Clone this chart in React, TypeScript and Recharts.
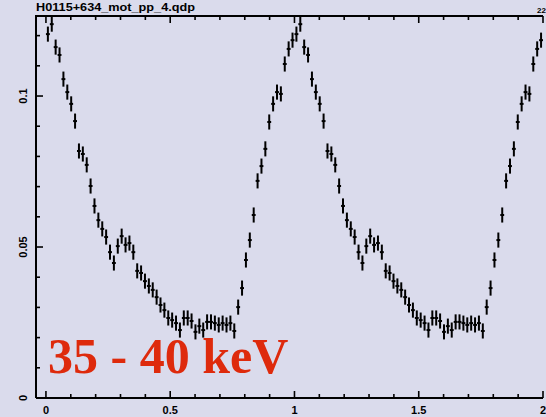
import React from 'react';
import { ScatterChart, Scatter, XAxis, YAxis, ErrorBar } from 'recharts';

const TITLE = 'H0115+634_mot_pp_4.qdp';
const CORNER_TAG = '22';
const BAND_LABEL = '35 - 40 keV';

// folded light curve, 64 phase bins per cycle
const rate = [
  0.1205, 0.1238, 0.1162, 0.1136, 0.1056, 0.1013, 0.0974, 0.0917,
  0.0818, 0.0808, 0.0772, 0.0702, 0.0636, 0.0589, 0.0560, 0.0533,
  0.0483, 0.0447, 0.0503, 0.0536, 0.0507, 0.0513, 0.0483, 0.0421,
  0.0414, 0.0387, 0.0371, 0.0358, 0.0334, 0.0308, 0.0291, 0.0265,
  0.0258, 0.0248, 0.0225, 0.0265, 0.0265, 0.0255, 0.0219, 0.0238,
  0.0225, 0.0252, 0.0252, 0.0248, 0.0242, 0.0248, 0.0242, 0.0248,
  0.0222, 0.0301, 0.0364, 0.0457, 0.0523, 0.0606, 0.0719, 0.0768,
  0.0825, 0.0914, 0.0974, 0.1013, 0.1007, 0.1106, 0.1156, 0.1185,
];
const RATE_ERR = 0.0025;
const N_CYCLES = 2;

const X_DOMAIN: [number, number] = [-0.04, 2.0];
const Y_DOMAIN: [number, number] = [0, 0.1265];

const xMajor = [0, 0.5, 1, 1.5, 2];
const xTicks = [0, 0.1, 0.2, 0.3, 0.4, 0.5, 0.6, 0.7, 0.8, 0.9, 1, 1.1, 1.2, 1.3, 1.4, 1.5, 1.6, 1.7, 1.8, 1.9, 2];
const yMajor = [0, 0.05, 0.1];
const yTicks = [0, 0.01, 0.02, 0.03, 0.04, 0.05, 0.06, 0.07, 0.08, 0.09, 0.1, 0.11, 0.12];

const W = 546;
const H = 417;
// plot frame in page pixels; the chart margins are derived from it
const PLOT = { left: 36, top: 16, right: 543, bottom: 398 };
const BG = '#dadbec';
const INK = '#000';
const LABEL_FONT = '"Liberation Sans", Arial, sans-serif';

const nBins = rate.length;
const points: { phase: number; rate: number; ex: number; ey: number }[] = [];
for (let c = 0; c < N_CYCLES; c++) {
  rate.forEach((r, i) => {
    points.push({ phase: c + (i + 0.5) / nBins, rate: r, ex: 0.5 / nBins, ey: RATE_ERR });
  });
}

const isMajor = (v: number, majors: number[]) => majors.some((m) => Math.abs(m - v) < 1e-6);

// phase -> page x, same mapping the x axis uses across the frame
const phaseToPx = (v: number) =>
  PLOT.left + ((v - X_DOMAIN[0]) / (X_DOMAIN[1] - X_DOMAIN[0])) * (PLOT.right - PLOT.left);

// ticks point into the frame, labels only on the major ones
const BottomTick = (props: any) => {
  const { x, y, payload } = props;
  const major = isMajor(payload.value, xMajor);
  return (
    <g>
      <line x1={x} y1={y} x2={x} y2={y - (major ? 7 : 4)} stroke={INK} strokeWidth={1.6} />
      {major && (
        <text x={x} y={y + 16} textAnchor="middle" fontSize={11} fontWeight="bold" fontFamily={LABEL_FONT} fill={INK}>
          {String(payload.value)}
        </text>
      )}
    </g>
  );
};

const LeftTick = (props: any) => {
  const { x, y, payload } = props;
  const major = isMajor(payload.value, yMajor);
  return (
    <g>
      <line x1={x} y1={y} x2={x + (major ? 7 : 4)} y2={y} stroke={INK} strokeWidth={1.6} />
      {major && (
        <text
          x={x - 9}
          y={y}
          transform={`rotate(-90 ${x - 9} ${y})`}
          textAnchor="middle"
          fontSize={11}
          fontWeight="bold"
          fontFamily={LABEL_FONT}
          fill={INK}
        >
          {String(payload.value)}
        </text>
      )}
    </g>
  );
};

const NoMarker = () => <g />;

export default function App() {
  return (
    <div style={{ position: 'fixed', left: 0, top: 0, width: W, height: H, background: BG }}>
      <ScatterChart
        width={W}
        height={H}
        margin={{ top: PLOT.top, right: W - PLOT.right, bottom: 0, left: 0 }}
      >
        <XAxis
          dataKey="phase"
          type="number"
          orientation="bottom"
          domain={X_DOMAIN}
          allowDataOverflow
          ticks={xTicks}
          interval={0}
          height={H - PLOT.bottom}
          tickLine={false}
          tickSize={0}
          tickMargin={0}
          tick={<BottomTick />}
          axisLine={{ stroke: INK, strokeWidth: 2 }}
        />
        <YAxis
          dataKey="rate"
          type="number"
          domain={Y_DOMAIN}
          allowDataOverflow
          ticks={yTicks}
          interval={0}
          width={PLOT.left}
          tickLine={false}
          tickSize={0}
          tickMargin={0}
          tick={<LeftTick />}
          axisLine={{ stroke: INK, strokeWidth: 2 }}
        />
        <Scatter data={points} shape={<NoMarker />} isAnimationActive={false}>
          <ErrorBar dataKey="ex" direction="x" width={0} stroke={INK} strokeWidth={2} isAnimationActive={false} />
          <ErrorBar dataKey="ey" direction="y" width={0} stroke={INK} strokeWidth={2} isAnimationActive={false} />
        </Scatter>
      </ScatterChart>
      <svg width={W} height={H} style={{ position: 'absolute', left: 0, top: 0, pointerEvents: 'none' }}>
        {/* top edge of the frame with inward ticks */}
        <line x1={PLOT.left - 1} y1={PLOT.top} x2={PLOT.right} y2={PLOT.top} stroke={INK} strokeWidth={2} />
        {xTicks.map((t) => {
          const px = phaseToPx(t);
          return (
            <line
              key={`top-${t}`}
              x1={px}
              y1={PLOT.top}
              x2={px}
              y2={PLOT.top + (isMajor(t, xMajor) ? 7 : 4)}
              stroke={INK}
              strokeWidth={1.6}
            />
          );
        })}
        <text
          x={36}
          y={11}
          fontSize={10}
          fontWeight="bold"
          fontFamily={LABEL_FONT}
          textLength={159}
          lengthAdjust="spacingAndGlyphs"
          fill={INK}
        >
          {TITLE}
        </text>
        <text x={537} y={13} fontSize={8} fontWeight="bold" fontFamily={LABEL_FONT} fill={INK}>
          {CORNER_TAG}
        </text>
        <text
          x={48}
          y={373}
          fontSize={50}
          fontWeight="bold"
          fontFamily='"Liberation Serif", "Times New Roman", serif'
          fill="#de2a0c"
        >
          {BAND_LABEL}
        </text>
      </svg>
    </div>
  );
}
